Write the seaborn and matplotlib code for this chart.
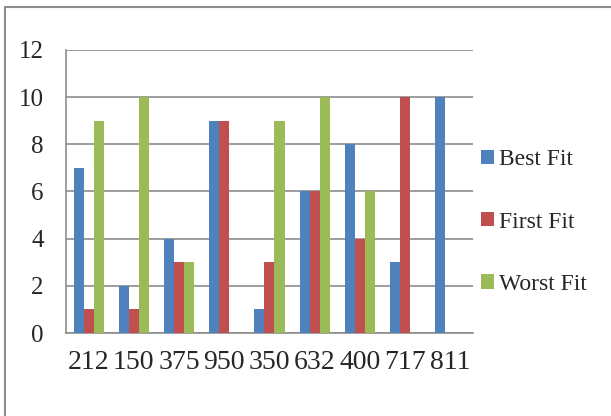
import matplotlib
matplotlib.use("Agg")
import matplotlib.pyplot as plt
from matplotlib.lines import Line2D
from matplotlib.patches import Patch
import seaborn as sns
import pandas as pd

# Process sizes (categories) and the block count chosen by each allocation strategy
processes = ["212", "150", "375", "950", "350", "632", "400", "717", "811"]
best_fit = [7, 2, 4, 9, 1, 6, 8, 3, 10]
first_fit = [1, 1, 3, 9, 3, 6, 4, 10, 0]
worst_fit = [9, 10, 3, 0, 9, 10, 6, 0, 0]
series_names = ["Best Fit", "First Fit", "Worst Fit"]
colors = ["#4F81BD", "#C0504D", "#9BBB59"]

rows = []
for name, vals in zip(series_names, [best_fit, first_fit, worst_fit]):
    for p, v in zip(processes, vals):
        rows.append({"process": p, "value": v, "series": name})
df = pd.DataFrame(rows)

sns.set_style("white")
plt.rcParams["font.family"] = ["Liberation Serif", "DejaVu Serif"]

fig = plt.figure(figsize=(6.11, 4.16), dpi=100)
ax = fig.add_axes([0.108, 0.1995, 0.666, 0.6805])

sns.barplot(data=df, x="process", y="value", hue="series", order=processes,
            hue_order=series_names, palette=colors, width=0.667, saturation=1,
            errorbar=None, ax=ax, legend=False, linewidth=0, zorder=3)

ax.set_ylim(0, 12)
ax.set_xlim(-0.5, len(processes) - 0.5)
ax.set_yticks(range(0, 13, 2))
ax.yaxis.grid(True, color="#8c8c8c", linewidth=1.2, zorder=0)
ax.set_axisbelow(True)
ax.set_xlabel("")
ax.set_ylabel("")

for s in ["top", "right"]:
    ax.spines[s].set_visible(False)
for s in ["left", "bottom"]:
    ax.spines[s].set_color("#8c8c8c")
    ax.spines[s].set_linewidth(1.2)

# category labels centred, tick marks on the category boundaries
ax.set_xticks(range(len(processes)))
ax.set_xticklabels(processes, fontsize=20)
ax.tick_params(axis="x", length=0, pad=12)
ax.set_xticks([i - 0.5 for i in range(len(processes) + 1)], minor=True)
ax.tick_params(axis="x", which="minor", length=6, color="#8c8c8c", width=1.2)
ax.tick_params(axis="y", length=6, color="#8c8c8c", width=1.2, labelsize=18, pad=10)

handles = [Patch(facecolor=c, edgecolor="none") for c in colors]
ax.legend(handles, series_names, loc="center left", bbox_to_anchor=(1.02, 0.392),
          frameon=False, fontsize=17, handlelength=0.55, handleheight=0.55,
          handletextpad=0.2, labelspacing=1.75, borderaxespad=0, borderpad=0)

# outer chart frame
fig.add_artist(Line2D([5 / 611, 1.0], [1 - 7 / 416, 1 - 7 / 416], color="#8c8c8c", linewidth=1.5))
fig.add_artist(Line2D([5 / 611, 5 / 611], [0.0, 1 - 7 / 416], color="#8c8c8c", linewidth=1.5))

fig.savefig("out.png", dpi=100)
